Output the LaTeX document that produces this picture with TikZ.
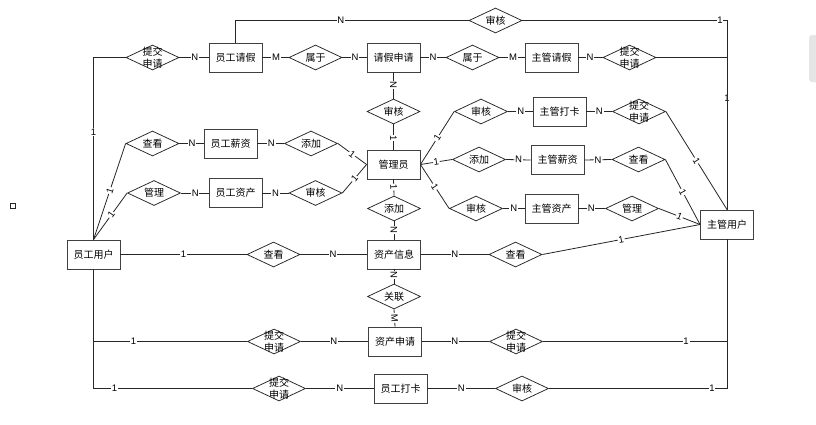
\documentclass[tikz,border=0pt]{standalone}
\usepackage{fontspec}
\setmainfont{Liberation Sans}
\newfontfamily\cjk{Noto Sans CJK SC}
\usetikzlibrary{shapes.geometric}
\begin{document}
\begin{tikzpicture}[x=1pt,y=-1pt,
  ent/.style={draw=black!75, line width=0.9pt, fill=white, minimum width=53pt, minimum height=29pt, inner sep=0pt, font=\cjk\fontsize{10}{12}\selectfont},
  rel/.style={diamond, draw=black!85, line width=0.75pt, fill=white, minimum width=53pt, minimum height=25pt, inner sep=0pt,
    label={[font=\cjk\fontsize{10}{12}\selectfont, align=center, inner sep=0pt]center:#1}},
  conn/.style={draw=black!85, line width=0.8pt},
  lbl/.style={fill=white, inner sep=0.8pt, font=\fontsize{9.5}{10}\selectfont, sloped},
  lblu/.style={fill=white, inner sep=0.8pt, font=\fontsize{9.5}{10}\selectfont}]
\useasboundingbox (0,0) rectangle (816,424);
\fill[white] (0,0) rectangle (816,424);

% entities
\node[ent] (ygqj) at (235.5,57.5) {员工请假};
\node[ent] (qjsq) at (393.5,57.5) {请假申请};
\node[ent] (zgqj) at (551.5,57.5) {主管请假};
\node[ent] (zgdk) at (559.5,111.5) {主管打卡};
\node[ent] (zgxz) at (557.5,160) {主管薪资};
\node[ent] (zgzc) at (551.5,208.5) {主管资产};
\node[ent] (zgyh) at (727,224.5) {主管用户};
\node[ent] (gly) at (393.5,164.5) {管理员};
\node[ent] (zcxx) at (394,254.5) {资产信息};
\node[ent] (zcsq) at (395,341.5) {资产申请};
\node[ent] (ygdk) at (400.5,388.5) {员工打卡};
\node[ent] (ygyh) at (93.5,254.5) {员工用户};
\node[ent] (ygxz) at (230.5,143.5) {员工薪资};
\node[ent] (ygzc) at (235.5,193) {员工资产};

% relationships
\node[rel={提交\\申请}] (r1) at (152.5,57.5) {};
\node[rel={属于}] (r2) at (315.5,57.5) {};
\node[rel={审核}] (r3) at (495.5,20.5) {};
\node[rel={属于}] (r4) at (472.5,57.5) {};
\node[rel={提交\\申请}] (r5) at (629.5,57.5) {};
\node[rel={审核}] (r6) at (393.5,111.5) {};
\node[rel={审核}] (r7) at (481,111.5) {};
\node[rel={提交\\申请}] (r8) at (639,111.5) {};
\node[rel={查看}] (r9) at (152.5,143.5) {};
\node[rel={管理}] (r10) at (154,193) {};
\node[rel={添加}] (r11) at (311,143.5) {};
\node[rel={审核}] (r12) at (315.5,193) {};
\node[rel={添加}] (r13) at (394,208.5) {};
\node[rel={添加}] (r14) at (479,159.5) {};
\node[rel={查看}] (r15) at (638.5,159.5) {};
\node[rel={审核}] (r16) at (476,208.5) {};
\node[rel={管理}] (r17) at (632,208.5) {};
\node[rel={查看}] (r18) at (515.5,254.5) {};
\node[rel={查看}] (r19) at (273.5,254.5) {};
\node[rel={关联}] (r20) at (394,296.5) {};
\node[rel={提交\\申请}] (r21) at (274,341.5) {};
\node[rel={提交\\申请}] (r22) at (516,341.5) {};
\node[rel={提交\\申请}] (r23) at (279,388.5) {};
\node[rel={审核}] (r24) at (522,388.5) {};

% stray marks
\node[draw=black!85, line width=0.6pt, minimum size=5pt, inner sep=0pt] (sq) at (13,206) {};
\fill[black!10, rounded corners=3pt] (809,35) rectangle (822,82);

% connectors
\path[conn] (r1.east) -- node[lbl,pos=0.53]{N} (ygqj.west);
\path[conn] (ygqj.east) -- node[lbl,pos=0.52]{M} (r2.west);
\path[conn] (r2.east) -- node[lbl,pos=0.52]{N} (qjsq.west);
\path[conn] (qjsq.east) -- node[lbl,pos=0.5]{N} (r4.west);
\path[conn] (r4.east) -- node[lbl,pos=0.54]{M} (zgqj.west);
\path[conn] (zgqj.east) -- node[lbl,pos=0.48]{N} (r5.west);
\path[conn] (r5.east) -| node[lblu,pos=0.633]{1} (zgyh.north);
\path[conn] (ygqj.north) |- node[lblu,pos=0.726]{N} (r3.west);
\path[conn] (r3.east) -| node[lblu,pos=0.483]{1} (zgyh.north);
\path[conn] (r1.west) -| node[lblu,pos=0.704]{1} (ygyh.north);
\path[conn] (qjsq.south) -- node[lbl,pos=0.48]{N} (r6.north);
\path[conn] (r6.south) -- node[lbl,pos=0.54]{1} (gly.north);
\path[conn] (gly.west) -- node[lbl,pos=0.5]{1} (r11.east);
\path[conn] (gly.west) -- node[lbl,pos=0.5]{1} (r12.east);
\path[conn] (gly.east) -- node[lbl,pos=0.5]{1} (r7.west);
\path[conn] (gly.east) -- node[lbl,pos=0.5]{1} (r14.west);
\path[conn] (gly.east) -- node[lbl,pos=0.5]{1} (r16.west);
\path[conn] (gly.south) -- node[lbl,pos=0.47]{1} (r13.north);
\path[conn] (r13.south) -- node[lbl,pos=0.47]{N} (zcxx.north);
\path[conn] (zcxx.south) -- node[lbl,pos=0.4]{N} (r20.north);
\path[conn] (r20.south) -- node[lbl,pos=0.5]{M} (zcsq.north);
\path[conn] (ygxz.east) -- node[lbl,pos=0.52]{N} (r11.west);
\path[conn] (r9.east) -- node[lbl,pos=0.52]{N} (ygxz.west);
\path[conn] (r10.east) -- node[lbl,pos=0.52]{N} (ygzc.west);
\path[conn] (ygzc.east) -- node[lbl,pos=0.5]{N} (r12.west);
\path[conn] (ygyh.north) -- node[lbl,pos=0.51]{1} (r9.west);
\path[conn] (ygyh.north) -- node[lbl,pos=0.53]{1} (r10.west);
\path[conn] (ygyh.east) -- node[lbl,pos=0.5]{1} (r19.west);
\path[conn] (r19.east) -- node[lbl,pos=0.49]{N} (zcxx.west);
\path[conn] (zcxx.east) -- node[lbl,pos=0.5]{N} (r18.west);
\path[conn] (r18.east) -- node[lbl,pos=0.5]{1} (zgyh.west);
\path[conn] (ygyh.south) |- node[lblu,pos=0.63]{1} (r21.west);
\path[conn] (ygyh.south) |- node[lblu,pos=0.566]{1} (r23.west);
\path[conn] (r21.east) -- node[lbl,pos=0.49]{N} (zcsq.west);
\path[conn] (r23.east) -- node[lbl,pos=0.5]{N} (ygdk.west);
\path[conn] (zcsq.east) -- node[lbl,pos=0.49]{N} (r22.west);
\path[conn] (ygdk.east) -- node[lbl,pos=0.5]{N} (r24.west);
\path[conn] (r22.east) -| node[lblu,pos=0.389]{1} (zgyh.south);
\path[conn] (r24.east) -| node[lblu,pos=0.458]{1} (zgyh.south);
\path[conn] (r7.east) -- node[lbl,pos=0.52]{N} (zgdk.west);
\path[conn] (zgdk.east) -- node[lbl,pos=0.5]{N} (r8.west);
\path[conn] (r8.east) -- node[lbl,pos=0.5]{1} (zgyh.north);
\path[conn] (r14.east) -- node[lbl,pos=0.52]{N} (zgxz.west);
\path[conn] (zgxz.east) -- node[lbl,pos=0.5]{N} (r15.west);
\path[conn] (r15.east) -- node[lbl,pos=0.5]{1} (zgyh.west);
\path[conn] (r16.east) -- node[lbl,pos=0.5]{N} (zgzc.west);
\path[conn] (zgzc.east) -- node[lbl,pos=0.48]{N} (r17.west);
\path[conn] (r17.east) -- node[lbl,pos=0.5]{1} (zgyh.west);
\end{tikzpicture}
\end{document}
